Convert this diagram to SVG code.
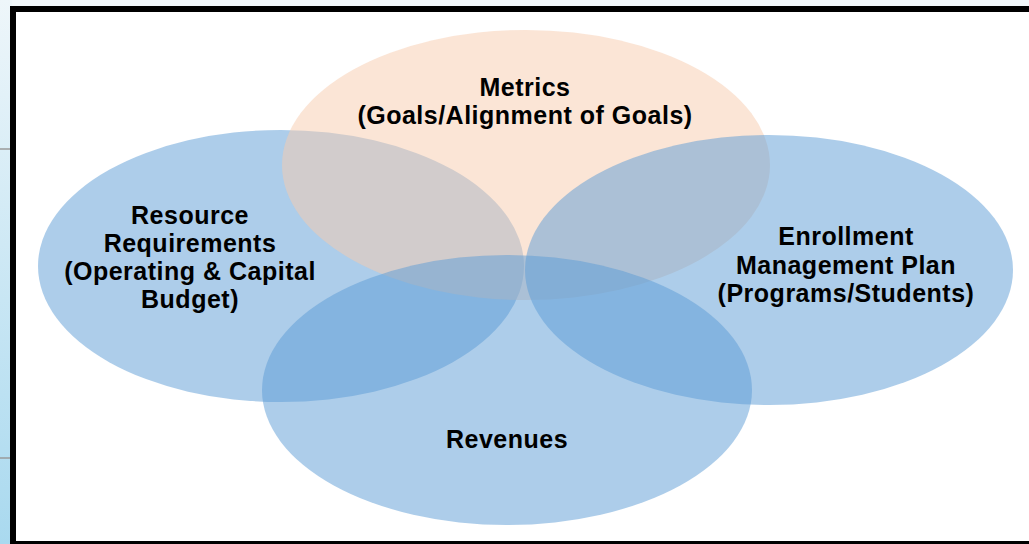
<svg xmlns="http://www.w3.org/2000/svg" width="1029" height="544" viewBox="0 0 1029 544">
  <defs>
    <linearGradient id="side" x1="0" y1="0" x2="0" y2="1">
      <stop offset="0" stop-color="#eef6fa"/>
      <stop offset="1" stop-color="#a9d9ef"/>
    </linearGradient>
    <style>
      .blue { fill: #5B9BD5; fill-opacity: 0.5; }
      .peach { fill: #F8CBAD; fill-opacity: 0.5; }
      .lbl { font-family: "Liberation Sans", Arial, sans-serif; font-weight: bold; font-size: 25px; letter-spacing: 0.5px; fill: #000; text-anchor: middle; }
    </style>
  </defs>
  <rect x="0" y="0" width="1029" height="544" fill="#f2f8fb"/>
  <rect x="0" y="0" width="12" height="544" fill="url(#side)"/>
  <line x1="0" y1="149" x2="12" y2="149" stroke="#9a9a9a" stroke-width="1.5"/>
  <line x1="0" y1="458" x2="12" y2="458" stroke="#9a9a9a" stroke-width="1.5"/>
  <rect id="frame" x="13" y="9" width="1030" height="535" fill="#ffffff" stroke="#000000" stroke-width="6"/>

  <g id="resource">
    <ellipse class="blue" cx="281" cy="266" rx="243" ry="136"/>
  </g>
  <g id="metrics">
    <ellipse class="peach" cx="526" cy="165" rx="244" ry="135"/>
  </g>
  <g id="enrollment">
    <ellipse class="blue" cx="769" cy="270" rx="244" ry="135"/>
  </g>
  <g id="revenues">
    <ellipse class="blue" cx="507" cy="390" rx="245" ry="135"/>
  </g>
  <g id="connectors"/>

  <g id="labels">
    <text class="lbl" x="525" y="96">Metrics</text>
    <text class="lbl" x="525" y="124">(Goals/Alignment of Goals)</text>
    <text class="lbl" x="190" y="224">Resource</text>
    <text class="lbl" x="190" y="252">Requirements</text>
    <text class="lbl" x="190" y="280">(Operating &amp; Capital</text>
    <text class="lbl" x="190" y="308">Budget)</text>
    <text class="lbl" x="846" y="245">Enrollment</text>
    <text class="lbl" x="846" y="274">Management Plan</text>
    <text class="lbl" x="846" y="302">(Programs/Students)</text>
    <text class="lbl" x="507" y="448">Revenues</text>
  </g>
</svg>
